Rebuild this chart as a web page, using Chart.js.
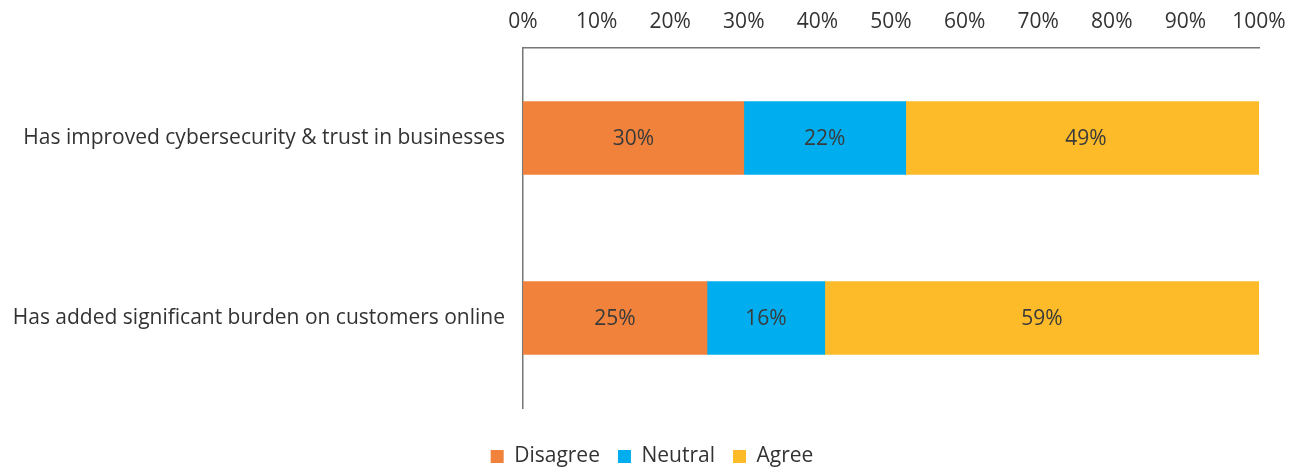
<!DOCTYPE html>
<html>
<head>
<meta charset="utf-8">
<script src="https://cdn.jsdelivr.net/npm/chart.js@4"></script>
<style>
  html, body { margin: 0; padding: 0; background: #fff; }
  #wrap { width: 1304px; height: 469px; }
</style>
</head>
<body>
<div id="wrap"><canvas id="opinionChart"></canvas></div>
<script>
// Survey responses, percent of respondents
const categories = [
  'Has improved cybersecurity & trust in businesses',
  'Has added significant burden on customers online'
];
const disagree = [30, 25];
const neutral = [22, 16];
const agree = [49, 59];
const tickValues = [0, 10, 20, 30, 40, 50, 60, 70, 80, 90, 100];

const FONT = "'Open Sans', 'Noto Sans', sans-serif";
const TEXT_COLOR = '#333333';
const FONT_SIZE = 21;

// Writes the percentage in the middle of each bar segment
const segmentLabels = {
  id: 'segmentLabels',
  afterDatasetsDraw(chart) {
    const ctx = chart.ctx;
    ctx.save();
    ctx.font = `${FONT_SIZE}px ${FONT}`;
    ctx.fillStyle = '#3a3a3a';
    ctx.textAlign = 'center';
    ctx.textBaseline = 'middle';
    chart.data.datasets.forEach((ds, i) => {
      chart.getDatasetMeta(i).data.forEach((bar, j) => {
        const mid = (bar.x + bar.base) / 2;
        ctx.fillText(ds.data[j] + '%', mid, bar.y + 1);
      });
    });
    ctx.restore();
  }
};

new Chart(document.getElementById('opinionChart'), {
  type: 'bar',
  data: {
    labels: categories,
    datasets: [
      { label: 'Disagree', data: disagree, backgroundColor: '#F0823C' },
      { label: 'Neutral', data: neutral, backgroundColor: '#00AEEF' },
      { label: 'Agree', data: agree, backgroundColor: '#FDBB2A' }
    ]
  },
  options: {
    indexAxis: 'y',
    responsive: true,
    maintainAspectRatio: false,
    animation: false,
    datasets: {
      bar: { barThickness: 73, clip: 0 }
    },
    layout: { padding: 0 },
    scales: {
      x: {
        position: 'top',
        stacked: true,
        min: 0,
        max: 100,
        afterBuildTicks(scale) {
          scale.ticks = tickValues.map(v => ({ value: v }));
        },
        // right gap comes from the axis, so the legend stays centred on the page
        afterFit(scale) {
          scale.height = 48;
          scale.paddingRight = 45;
        },
        grid: { display: false, drawTicks: false },
        border: { display: true, color: '#777777', width: 1.5 },
        ticks: {
          padding: 13,
          color: TEXT_COLOR,
          font: { family: FONT, size: FONT_SIZE },
          callback: v => v + '%'
        }
      },
      y: {
        stacked: true,
        afterFit(scale) { scale.width = 523; },
        grid: { display: false, drawTicks: false },
        border: { display: true, color: '#777777', width: 1.5 },
        ticks: {
          padding: 18,
          color: TEXT_COLOR,
          font: { family: FONT, size: FONT_SIZE }
        }
      }
    },
    plugins: {
      legend: {
        position: 'bottom',
        maxHeight: 61,
        // empty title only pushes the legend row down
        title: { display: true, text: '', font: { size: 10 }, padding: { top: 8, bottom: 0 } },
        labels: {
          boxWidth: 13,
          boxHeight: 13,
          padding: 18,
          color: TEXT_COLOR,
          font: { family: FONT, size: FONT_SIZE }
        }
      },
      tooltip: { enabled: false }
    }
  },
  plugins: [segmentLabels]
});
</script>
</body>
</html>
